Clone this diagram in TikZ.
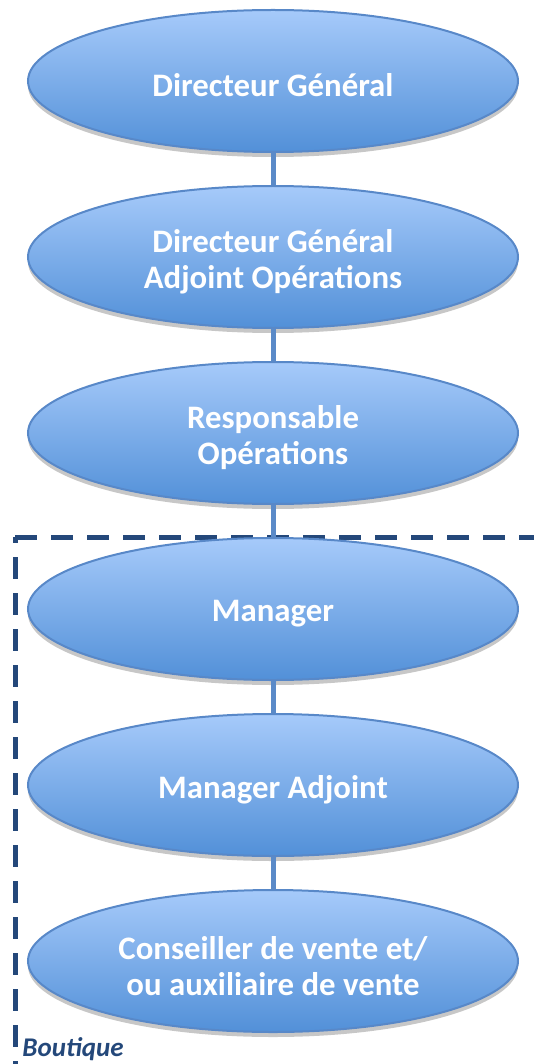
\documentclass[tikz,border=0pt]{standalone}
\usepackage{fontspec}
\setmainfont{Carlito}
\usetikzlibrary{shapes.geometric,shadows}
\definecolor{ellTop}{RGB}{166,202,250}
\definecolor{ellBot}{RGB}{82,144,216}
\definecolor{ellLine}{RGB}{88,136,200}
\definecolor{connCol}{RGB}{90,138,200}
\definecolor{boxCol}{RGB}{36,72,122}
\tikzset{
  role/.style={ellipse, minimum width=245pt, minimum height=71pt, inner sep=0pt,
    top color=ellTop, bottom color=ellBot, draw=ellLine, line width=1pt,
    drop shadow={shadow xshift=0pt, shadow yshift=-2.5pt, opacity=0.22, fill=black}},
  roletext/.style={text=white, font=\bfseries\fontsize{16.4}{18}\selectfont, align=center, inner sep=0pt},
  conn/.style={draw=connCol, line width=2.5pt},
  boxline/.style={draw=boxCol, line width=2.5pt, dash pattern=on 11pt off 7pt},
  boxlabel/.style={text=boxCol, font=\bfseries\itshape\fontsize{13.5}{16}\selectfont, inner sep=0pt, anchor=base west}
}
\begin{document}
\begin{tikzpicture}[x=0.5pt,y=-0.5pt]
\useasboundingbox (0,0) rectangle (534,1064);
\coordinate (corner) at (15,537);
\coordinate (boxright) at (600,537);
\coordinate (boxbottom) at (15,1120);
\draw[boxline] (corner) -- (boxright);
\draw[boxline, dash phase=8pt] (corner) -- (boxbottom);
\node[role] (e1) at (273,81) {};
\node[role] (e2) at (273,257) {};
\node[role] (e3) at (273,433) {};
\node[role] (e4) at (273,609) {};
\node[role] (e5) at (273,785) {};
\node[role] (e6) at (273,961) {};
\node[roletext] (t1) at ([yshift=-2.2pt]e1.center) {Directeur Général};
\node[roletext] (t2) at ([yshift=-2.4pt]e2.center) {Directeur Général\\Adjoint Opérations};
\node[roletext] (t3) at ([yshift=-2.4pt]e3.center) {Responsable\\Opérations};
\node[roletext] (t4) at ([yshift=-2.2pt]e4.center) {Manager};
\node[roletext] (t5) at ([yshift=-2.2pt]e5.center) {Manager Adjoint};
\node[roletext] (t6) at ([yshift=-2.4pt]e6.center) {Conseiller de vente et/\\ou auxiliaire de vente};
\draw[conn] (e1.south) -- (e2.north);
\draw[conn] (e2.south) -- (e3.north);
\draw[conn] (e3.south) -- (e4.north);
\draw[conn] (e4.south) -- (e5.north);
\draw[conn] (e5.south) -- (e6.north);
\node[boxlabel] (lbl) at (22,1056) {Boutique};
\end{tikzpicture}
\end{document}
